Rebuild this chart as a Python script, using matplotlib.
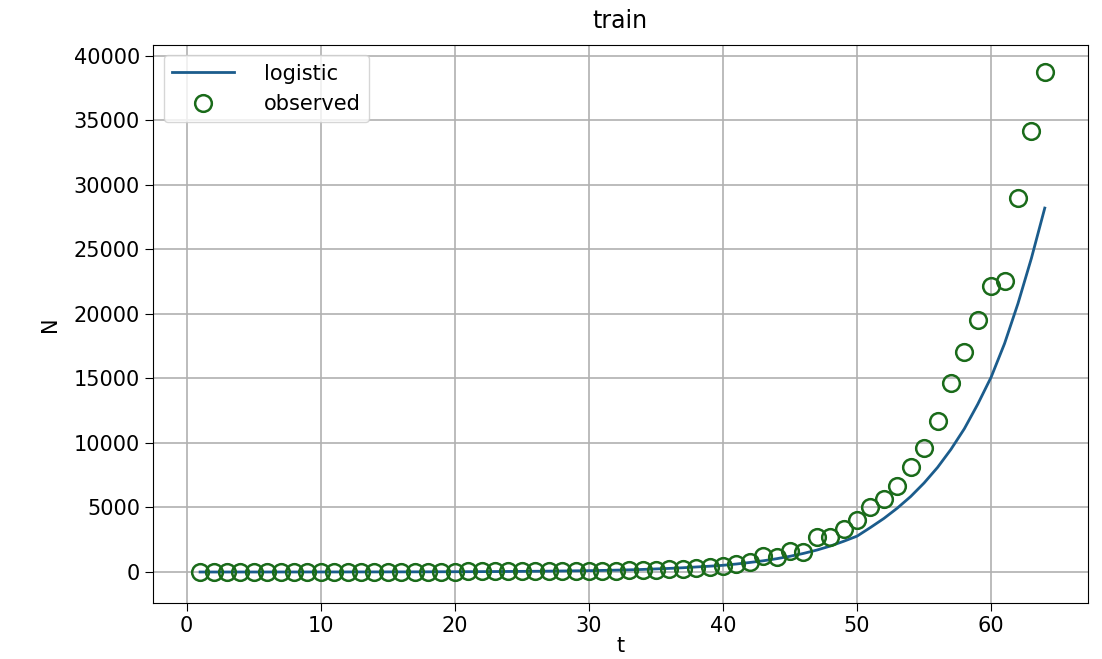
import matplotlib
matplotlib.use("Agg")
import matplotlib.pyplot as plt

# time steps
t = list(range(1, 65))

# observed counts
observed = [
    2, 3, 4, 5, 6, 8, 9, 10, 12, 14,
    15, 17, 19, 21, 23, 26, 29, 32, 35, 38,
    41, 45, 49, 53, 58, 63, 69, 76, 84, 92,
    100, 112, 125, 140, 160, 200, 250, 320, 400, 470,
    620, 780, 1240, 1160, 1630, 1550, 2710, 2710, 3300, 4030,
    5060, 5680, 6630, 8160, 9590, 11700, 14650, 17050, 19530, 22200,
    22520, 28990, 34190, 38760,
]

# logistic fit
logistic = [
    1, 1, 1, 2, 2, 2, 3, 3, 4, 4,
    5, 6, 7, 8, 10, 11, 13, 16, 19, 22,
    26, 30, 36, 42, 50, 58, 68, 80, 92, 104,
    123, 145, 170, 200, 240, 280, 330, 390, 450, 520,
    620, 740, 870, 1030, 1220, 1440, 1700, 2010, 2380, 2780,
    3450, 4150, 4950, 5850, 6900, 8100, 9500, 11100, 13000, 15100,
    17700, 20800, 24300, 28200,
]

plt.rcParams['font.family'] = ['DejaVu Sans']

fig, ax = plt.subplots(figsize=(11.02, 6.59), dpi=100)
fig.subplots_adjust(left=0.139, right=0.987, top=0.932, bottom=0.085)

ax.plot(t, logistic, color='#1b5c8c', linewidth=2, label='logistic')
ax.plot(t, observed, 'o', markerfacecolor='none', markeredgecolor='#1a6b1a',
        markersize=12, markeredgewidth=1.8, label='observed')

ax.set_xlim(-2.5, 67.2)
ax.set_ylim(-2400, 40850)
ax.set_xticks([0, 10, 20, 30, 40, 50, 60])
ax.set_yticks(range(0, 40001, 5000))
ax.tick_params(labelsize=15, length=6)
ax.grid(True, color='#b0b0b0', linewidth=1.2)

ax.set_title('train', fontsize=17, pad=12)
ax.set_xlabel('t', fontsize=15, labelpad=0)
ax.set_ylabel('N', fontsize=15, labelpad=10)

ax.legend(loc='upper left', fontsize=15, numpoints=1, handlelength=3,
          handletextpad=1.4)

fig.savefig('out.png', dpi=100)
